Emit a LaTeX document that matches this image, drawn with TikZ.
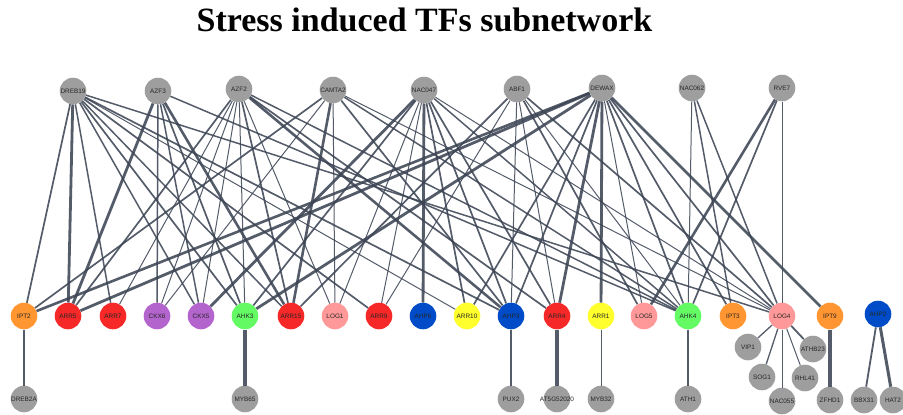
\documentclass[tikz,border=0pt]{standalone}
\usepackage{fontspec}
\setmainfont{Liberation Serif}
\newfontfamily\lblfont{Liberation Sans}
\definecolor{cgray}{RGB}{158,158,158}
\definecolor{cred}{RGB}{246,40,40}
\definecolor{corange}{RGB}{255,150,50}
\definecolor{cpurple}{RGB}{180,100,205}
\definecolor{cgreen}{RGB}{100,250,100}
\definecolor{cpink}{RGB}{255,152,152}
\definecolor{cblue}{RGB}{0,76,200}
\definecolor{cyellow}{RGB}{255,255,45}
\definecolor{cedge}{RGB}{60,68,84}
\begin{document}
\begin{tikzpicture}[x=1pt,y=-1pt,
  nd/.style={circle,minimum size=26.6pt,inner sep=0pt,font=\lblfont\fontsize{6.4}{7}\selectfont,text=black!85},
  gr/.style={nd,fill=cgray},
  rd/.style={nd,fill=cred},
  og/.style={nd,fill=corange},
  pu/.style={nd,fill=cpurple},
  gn/.style={nd,fill=cgreen},
  pk/.style={nd,fill=cpink},
  bl/.style={nd,fill=cblue},
  ye/.style={nd,fill=cyellow},
  ed/.style={draw=cedge,draw opacity=0.88}]
\useasboundingbox (0,0) rectangle (903,415);
\node[font=\bfseries\fontsize{34}{40}\selectfont,anchor=base] (title) at (424.5,31) {Stress induced TFs subnetwork};
% top row
\node[gr] (dreb19) at (73,91) {DREB19};
\node[gr] (azf3) at (158,91) {AZF3};
\node[gr] (azf2) at (239,89) {AZF2};
\node[gr] (camta2) at (333,90) {CAMTA2};
\node[gr] (nac047) at (424,90) {NAC047};
\node[gr] (abf1) at (517,89) {ABF1};
\node[gr] (dewax) at (602,88) {DEWAX};
\node[gr] (nac062) at (692,88) {NAC062};
\node[gr] (rve7) at (782,88) {RVE7};
% middle row
\node[og] (ipt2) at (24,316) {IPT2};
\node[rd] (arr5) at (68,316) {ARR5};
\node[rd] (arr7) at (113,316) {ARR7};
\node[pu] (ckx6) at (157,316) {CKX6};
\node[pu] (ckx5) at (201,316) {CKX5};
\node[gn] (ahk3) at (245,316) {AHK3};
\node[rd] (arr15) at (291,316) {ARR15};
\node[pk] (log1) at (335,316) {LOG1};
\node[rd] (arr9) at (379,316) {ARR9};
\node[bl] (ahp6) at (423,316) {AHP6};
\node[ye] (arr10) at (467,316) {ARR10};
\node[bl] (ahp3) at (511,316) {AHP3};
\node[rd] (arr4) at (557,316) {ARR4};
\node[ye] (arr1) at (601,316) {ARR1};
\node[pk] (log5) at (644,316) {LOG5};
\node[gn] (ahk4) at (688,316) {AHK4};
\node[og] (ipt3) at (733,316) {IPT3};
\node[pk] (log4) at (782,316) {LOG4};
\node[og] (ipt9) at (830,316) {IPT9};
\node[bl] (ahp2) at (878,314) {AHP2};
% bottom row
\node[gr] (dreb2a) at (24,399) {DREB2A};
\node[gr] (myb65) at (245,399) {MYB65};
\node[gr] (pux2) at (511,399) {PUX2};
\node[gr,label={[font=\lblfont\fontsize{6.4}{7}\selectfont,text=black!85,inner sep=0pt]center:AT5G52020}] (at5g) at (557,399) {};
\node[gr] (myb32) at (601,399) {MYB32};
\node[gr] (ath1) at (688,399) {ATH1};
\node[gr] (vip1) at (748,347) {VIP1};
\node[gr] (athb23) at (813,349) {ATHB23};
\node[gr] (sog1) at (762,377) {SOG1};
\node[gr] (rhl41) at (805,378) {RHL41};
\node[gr] (nac055) at (782,401) {NAC055};
\node[gr] (zfhd1) at (830,400) {ZFHD1};
\node[gr] (bbx31) at (864,400) {BBX31};
\node[gr] (hat2) at (893,400) {HAT2};
% edges
\foreach \a/\b/\w in {
 dreb19/ipt2/1.7, dreb19/arr5/2.8, dreb19/arr7/1.5, dreb19/ckx5/1.5, dreb19/ahk3/1.7,
 dreb19/arr15/1.5, dreb19/arr9/1.7, dreb19/arr10/1.0, dreb19/ahp3/1.7, dreb19/log4/1.5,
 azf3/arr5/2.8, azf3/ckx6/1.5, azf3/ckx5/1.5, azf3/ahk3/1.7, azf3/arr15/2.6, azf3/ahk4/1.5,
 azf2/arr5/1.7, azf2/arr7/1.0, azf2/ckx6/1.0, azf2/ckx5/1.0, azf2/ahk3/1.0, azf2/arr15/1.7,
 azf2/log1/1.0, azf2/ahp3/2.6, azf2/arr4/1.7, azf2/ahk4/1.5,
 camta2/ipt2/1.7, camta2/ckx6/1.0, camta2/arr15/2.6, camta2/log1/1.0, camta2/ahp3/1.7,
 camta2/ahk4/1.5, camta2/log4/1.0,
 nac047/ckx5/2.8, nac047/ahk3/1.7, nac047/log1/1.0, nac047/arr9/1.0, nac047/ahp6/2.8,
 nac047/arr10/1.7, nac047/ahp3/1.7, nac047/arr4/1.7, nac047/ahk4/1.5, nac047/log4/1.0,
 abf1/arr15/1.7, abf1/arr9/1.0, abf1/ahp3/1.0, abf1/arr4/1.0, abf1/log5/1.7, abf1/ahk4/1.0, abf1/log4/1.7,
 dewax/ipt2/2.6, dewax/arr5/2.8, dewax/ahk3/2.8, dewax/arr10/1.7, dewax/ahp3/1.7, dewax/arr4/2.8,
 dewax/arr1/2.8, dewax/log5/1.0, dewax/ahk4/1.7, dewax/ipt3/1.7, dewax/log4/1.7, dewax/ipt9/2.8,
 nac062/ahk4/1.0, nac062/ipt3/1.5, nac062/log4/1.5,
 rve7/log5/2.6, rve7/ahk4/1.7, rve7/log4/1.0,
 ipt2/dreb2a/2.2, ahk3/myb65/3.2, ahp3/pux2/1.3, arr4/at5g/3.2, arr1/myb32/1.0, ahk4/ath1/1.8,
 log4/vip1/1.3, log4/sog1/1.3, log4/nac055/1.0, log4/rhl41/1.0, log4/athb23/1.8,
 ipt9/zfhd1/3.4, ahp2/bbx31/1.8, ahp2/hat2/3.0}
 \draw[ed,line width=\w pt] (\a) -- (\b);
\end{tikzpicture}
\end{document}
